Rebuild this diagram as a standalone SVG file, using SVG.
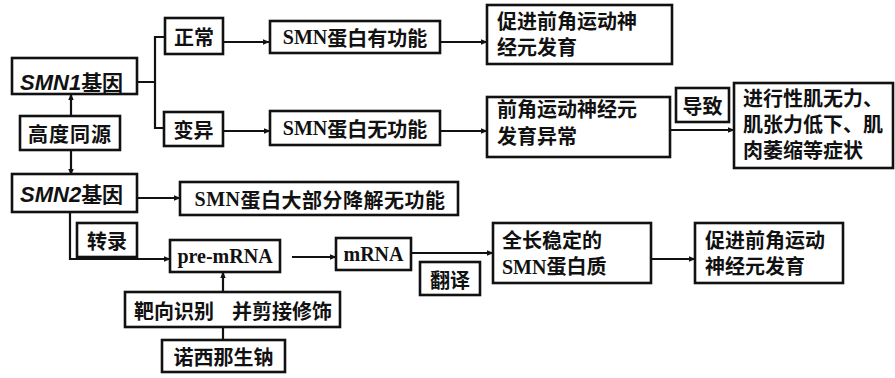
<svg xmlns="http://www.w3.org/2000/svg" width="895" height="378" viewBox="0 0 895 378">
<defs>
<marker id="ah" viewBox="0 0 10 10" refX="9" refY="5" markerWidth="7" markerHeight="7" markerUnits="userSpaceOnUse" orient="auto-start-reverse">
<path d="M0,1 L10,5 L0,9 z" fill="#111"/>
</marker>
<style>
.b{fill:#fff;stroke:#111;stroke-width:2.6}
.t{font-family:"Noto Sans CJK SC","Liberation Serif",sans-serif;font-weight:bold;font-size:20px;fill:#111}
.c{text-anchor:middle;dominant-baseline:central}
.l{font-family:"Liberation Serif",serif;font-weight:bold}
.g{font-family:"Liberation Sans",sans-serif;font-style:italic;font-weight:bold;font-size:22px}
.e{fill:none;stroke:#111;stroke-width:2.2}
.a{marker-end:url(#ah)}
</style>
</defs>
<rect width="895" height="378" fill="#fff"/>
<g id="connectors">
<path class="e" d="M137,82 H155 M166,37 H155 V128 H164"/>
<path class="e a" d="M223,42 H269"/>
<path class="e a" d="M440,42 H487"/>
<path class="e a" d="M223,131 H270"/>
<path class="e a" d="M440,131 H487"/>
<path class="e a" d="M670,130 H734"/>
<path class="e a" d="M71,94 V175" marker-start="url(#ah)"/>
<path class="e a" d="M137,198 H180"/>
<path class="e a" d="M70,212 V259 H170"/>
<path class="e a" d="M292,257 H336"/>
<path class="e a" d="M411,253 H493"/>
<path class="e a" d="M651,259 H695"/>
<path class="e a" d="M223,340 V272"/>
<path class="e" d="M223,327 V292"/>
</g>
<g id="smn1">
<rect class="b" x="12" y="58" width="125" height="36"/>
<text class="t" x="20" y="84" dominant-baseline="middle"><tspan class="g">SMN1</tspan><tspan font-size="21">基因</tspan></text>
</g>
<g id="homolog">
<rect class="b" x="20" y="116" width="100" height="34"/>
<text class="t c" x="70" y="133" font-size="21" letter-spacing="1">高度同源</text>
</g>
<g id="normal">
<rect class="b" x="165" y="18" width="58" height="36"/>
<text class="t c" x="194" y="36" font-size="21">正常</text>
</g>
<g id="mutant">
<rect class="b" x="164" y="112" width="59" height="34"/>
<text class="t c" x="193.5" y="129" font-size="21">变异</text>
</g>
<g id="func">
<rect class="b" x="270" y="21" width="170" height="32"/>
<text class="t c" x="355" y="37" font-size="21"><tspan class="l">SMN</tspan>蛋白有功能</text>
</g>
<g id="nofunc">
<rect class="b" x="270" y="111" width="170" height="34"/>
<text class="t c" x="355" y="128" font-size="21"><tspan class="l">SMN</tspan>蛋白无功能</text>
</g>
<g id="promote1">
<rect class="b" x="487" y="5" width="185" height="59"/>
<text class="t" font-size="21"><tspan x="497" y="29">促进前角运动神</tspan><tspan x="497" y="55">经元发育</tspan></text>
</g>
<g id="abnormal">
<rect class="b" x="487" y="97" width="183" height="60"/>
<text class="t" font-size="19"><tspan x="497" y="117">前角运动神经元</tspan><tspan x="497" y="144">发育异常</tspan></text>
</g>
<g id="cause">
<rect class="b" x="676" y="88" width="53" height="34"/>
<text class="t c" x="702.5" y="105" font-size="17">导致</text>
</g>
<g id="symptom">
<rect class="b" x="734" y="83" width="159" height="85"/>
<text class="t" font-size="19"><tspan x="743" y="106">进行性肌无力、</tspan><tspan x="743" y="132">肌张力低下、肌</tspan><tspan x="743" y="158">肉萎缩等症状</tspan></text>
</g>
<g id="smn2">
<rect class="b" x="12" y="174" width="125" height="38"/>
<text class="t" x="20" y="196" dominant-baseline="middle"><tspan class="g">SMN2</tspan><tspan font-size="21">基因</tspan></text>
</g>
<g id="degrade">
<rect class="b" x="180" y="182" width="278" height="33"/>
<text class="t c" x="320" y="199" font-size="21" letter-spacing="0.5"><tspan class="l">SMN</tspan>蛋白大部分降解无功能</text>
</g>
<g id="transcribe">
<rect class="b" x="77" y="223" width="60" height="34"/>
<text class="t c" x="107" y="240" font-size="20">转录</text>
</g>
<g id="premrna">
<rect class="b" x="170" y="240" width="110" height="32"/>
<text class="t c l" x="225" y="256" font-size="19">pre-mRNA</text>
</g>
<g id="mrna">
<rect class="b" x="336" y="238" width="75" height="32"/>
<text class="t c l" x="373.5" y="254" font-size="19">mRNA</text>
</g>
<g id="translate">
<rect class="b" x="420" y="262" width="60" height="33"/>
<text class="t c" x="450" y="279" font-size="20">翻译</text>
</g>
<g id="protein">
<rect class="b" x="493" y="223" width="158" height="60"/>
<text class="t" font-size="20"><tspan x="502" y="248">全长稳定的</tspan><tspan x="502" y="274"><tspan class="l">SMN</tspan>蛋白质</tspan></text>
</g>
<g id="promote2">
<rect class="b" x="695" y="223" width="148" height="60"/>
<text class="t" font-size="20"><tspan x="705" y="248">促进前角运动</tspan><tspan x="705" y="274">神经元发育</tspan></text>
</g>
<g id="splice">
<rect class="b" x="125" y="292" width="215" height="35"/>
<text class="t c" x="174" y="310" font-size="20">靶向识别</text>
<text class="t c" x="282" y="310" font-size="20">并剪接修饰</text>
</g>
<g id="nusinersen">
<rect class="b" x="162" y="340" width="123" height="32"/>
<text class="t c" x="223.5" y="356" font-size="21">诺西那生钠</text>
</g>
</svg>
